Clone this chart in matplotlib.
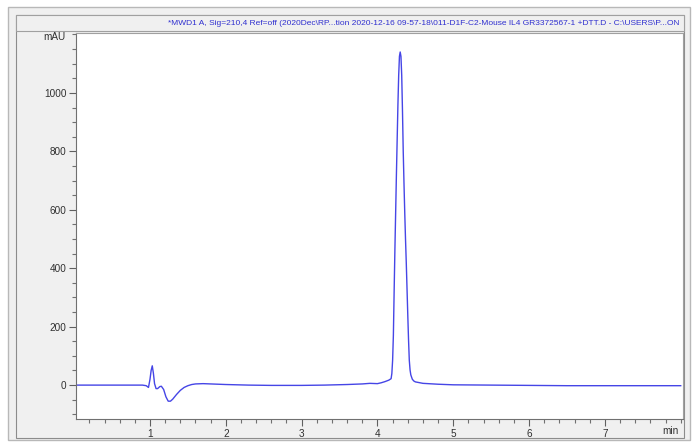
import matplotlib
matplotlib.use("Agg")
import matplotlib.pyplot as plt
from matplotlib.patches import Rectangle
from matplotlib.ticker import MultipleLocator, FixedLocator

plt.rcParams['font.family'] = ['Liberation Sans', 'DejaVu Sans']

# Chromatogram samples (time in min, signal in mAU)
time_min = [0.0, 0.5, 0.9, 0.95, 0.98, 1.0, 1.015, 1.03, 1.045, 1.06, 1.08, 1.1,
            1.13, 1.15, 1.18, 1.21, 1.24, 1.27, 1.3, 1.35, 1.4, 1.45, 1.5, 1.55,
            1.6, 1.7, 1.8, 2.0, 2.3, 2.6, 3.0, 3.3, 3.6, 3.8, 3.9, 4.0, 4.05, 4.1,
            4.15, 4.18, 4.19, 4.20, 4.21, 4.22, 4.23, 4.24, 4.25, 4.26, 4.27, 4.28,
            4.29, 4.30, 4.31, 4.32, 4.33, 4.34, 4.35, 4.36, 4.37, 4.38, 4.39, 4.40,
            4.41, 4.42, 4.43, 4.44, 4.46, 4.48, 4.5, 4.6, 4.8, 5.0,
            5.5, 6.0, 6.5, 7.0, 7.5, 8.0]
signal_mau = [0, 0, 0, -2, -8, 20, 50, 66, 40, 5, -12, -12,
              -5, -4, -15, -40, -55, -55, -48, -32, -18, -8, -2, 2,
              4, 5, 4, 2, 0, -1, -1, 0, 2, 4, 6, 5, 8, 12,
              17, 22, 40, 85, 170, 320, 462, 590, 720, 840, 960, 1060,
              1125, 1140, 1125, 1060, 940, 800, 690, 590, 500, 420, 330, 240,
              155, 85, 52, 35, 20, 14, 11, 6, 3, 1,
              0, -1, -2, -2, -2, -2]

x_ticks = [1, 2, 3, 4, 5, 6, 7]
y_ticks = [0, 200, 400, 600, 800, 1000]
title_text = ("*MWD1 A, Sig=210,4 Ref=off (2020Dec\\RP...tion 2020-12-16 09-57-18\\"
              "011-D1F-C2-Mouse IL4 GR3372567-1 +DTT.D - C:\\USERS\\P...ON")

W, H = 698, 448
fig = plt.figure(figsize=(W / 100, H / 100), dpi=100, facecolor='white')


def px_rect(x0, y0, x1, y1, **kw):
    r = Rectangle((x0 / W, 1 - y1 / H), (x1 - x0) / W, (y1 - y0) / H,
                  transform=fig.transFigure, zorder=-10, **kw)
    fig.patches.append(r)


# outer frame and panel
px_rect(8, 7, 690, 440, facecolor='#f0f0f0', edgecolor='#b8b8b8', lw=1.0)
px_rect(16, 15, 684, 438, facecolor='#f0f0f0', edgecolor='#8c8c8c', lw=0.8)
# title bar
px_rect(16, 15, 684, 31, facecolor='#f0f0f0', edgecolor='#a0a0a0', lw=0.8)
fig.text(679 / W, 1 - 23.5 / H, title_text, ha='right', va='center',
         fontsize=6.0, color='#3030d0', zorder=5)

ax = fig.add_axes([76 / W, 1 - 419 / H, (683 - 76) / W, (419 - 33) / H])
ax.set_zorder(2)
ax.set_facecolor('white')
ax.plot(time_min, signal_mau, color='#4545e6', lw=1.0)

ax.set_xlim(0.024, 8.03)
ax.set_ylim(-116, 1205)

ax.xaxis.set_major_locator(FixedLocator(x_ticks))
ax.xaxis.set_minor_locator(MultipleLocator(0.2))
ax.yaxis.set_major_locator(FixedLocator(y_ticks))
ax.yaxis.set_minor_locator(MultipleLocator(50))
ax.set_xticklabels([str(v) for v in x_ticks])
ax.set_yticklabels([str(v) for v in y_ticks])

ax.tick_params(axis='both', which='major', length=5, width=0.8, color='#606060',
               labelsize=7.2, labelcolor='#303030', direction='out', pad=2)
ax.tick_params(axis='both', which='minor', length=3, width=0.8, color='#707070',
               direction='out')

for side, sp in ax.spines.items():
    sp.set_color('#707070')
    sp.set_linewidth(0.8)
ax.spines['top'].set_color('#a0a0a0')
ax.spines['right'].set_color('#a0a0a0')

# axis unit labels
ax.annotate('min', xy=(7.86, 0), xycoords=('data', 'axes fraction'),
            xytext=(0, -5.2), textcoords='offset points', ha='center', va='top',
            fontsize=7.2, color='#303030', annotation_clip=False)
ax.annotate('mAU', xy=(0, 1190), xycoords=('axes fraction', 'data'),
            xytext=(-7.4, 0), textcoords='offset points', ha='right', va='center',
            fontsize=7.2, color='#303030', annotation_clip=False)

fig.savefig('out.png', dpi=100, facecolor=fig.get_facecolor())
